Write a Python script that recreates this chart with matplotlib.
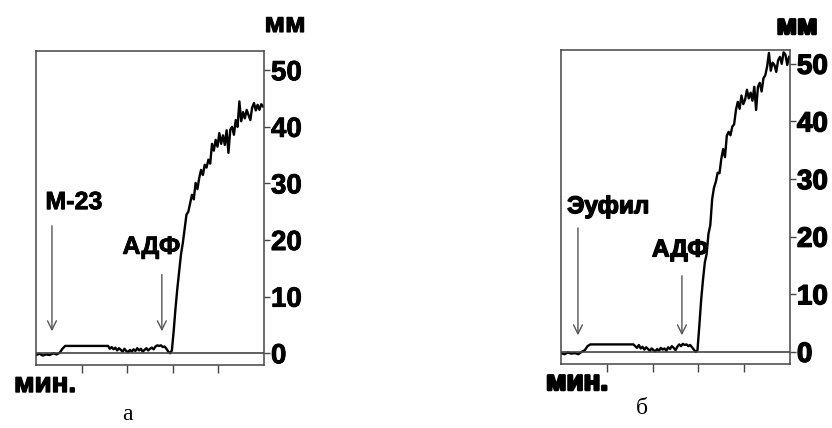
import numpy as np
import matplotlib
matplotlib.use('Agg')
import matplotlib.pyplot as plt
import matplotlib.patheffects as pe

plt.rcParams['font.family'] = ['Liberation Sans', 'DejaVu Sans']

# время, мин (общая сетка для обеих кривых)
t_base = [0.00, 0.08, 0.15, 0.22, 0.30, 0.38, 0.45, 0.52, 0.58, 0.64, 1.00, 1.30, 1.58]
t_noise = [1.62, 1.66, 1.70, 1.74, 1.78, 1.82, 1.86, 1.90, 1.94, 1.98, 2.02, 2.06,
           2.10, 2.14, 2.18, 2.22, 2.26, 2.30, 2.34, 2.38, 2.42, 2.46, 2.50, 2.54,
           2.58, 2.62, 2.66, 2.70, 2.74, 2.78, 2.82, 2.86, 2.90, 2.94]
t_rise = [2.98, 3.02, 3.06, 3.10, 3.14, 3.18, 3.22, 3.26, 3.30, 3.34, 3.38, 3.42,
          3.46, 3.50, 3.54, 3.58, 3.62, 3.66, 3.70, 3.74, 3.78, 3.82, 3.86, 3.90,
          3.94, 3.98, 4.02, 4.06, 4.10, 4.14, 4.18, 4.22, 4.26, 4.30, 4.34, 4.38,
          4.42, 4.46, 4.50, 4.54, 4.58, 4.62, 4.66, 4.70, 4.74, 4.78, 4.82, 4.86,
          4.90, 4.94, 4.98]

# а) М-23 + АДФ, мм
ya_base = [-0.3, -0.1, -0.4, -0.2, -0.3, 0.0, -0.2, 0.1, 0.8, 1.3, 1.3, 1.3, 1.3]
ya_noise = [0.8, 1.1, 0.7, 1.0, 0.5, 0.9, 0.6, 0.3, 0.8, 0.4, 0.2, 0.6,
            0.3, 0.7, 0.4, 0.9, 0.5, 0.8, 0.3, 0.6, 0.9, 0.5, 0.8, 1.0,
            0.7, 1.2, 1.4, 1.3, 1.4, 1.1, 1.2, 0.8, 0.3, 0.0]
ya_rise = [0.5, 4.0, 8.0, 11.5, 14.5, 17.5, 19.5, 22.0, 24.5, 25.0, 26.5, 28.0,
           27.2, 30.1, 29.0, 31.0, 32.4, 31.5, 33.3, 32.8, 34.2, 33.5, 37.0, 35.8,
           37.7, 36.5, 38.9, 37.0, 38.5, 36.8, 39.4, 35.4, 39.5, 40.0, 38.6, 41.2,
           40.0, 44.5, 41.0, 42.6, 41.5, 43.0, 42.1, 41.2, 43.4, 44.2, 42.9, 43.9,
           43.0, 44.0, 43.6]

# б) Эуфил + АДФ, мм
yb_base = [-0.2, -0.4, -0.1, -0.3, -0.2, -0.4, 0.0, 0.3, 1.0, 1.3, 1.3, 1.3, 1.3]
yb_noise = [1.0, 0.7, 1.2, 0.6, 0.9, 0.4, 0.8, 0.5, 0.2, 0.6, 0.3, 0.1,
            0.5, 0.2, 0.7, 0.4, 0.6, 0.2, 0.8, 0.5, 1.0, 0.7, 0.3, 0.9,
            1.3, 1.0, 1.4, 1.2, 1.3, 1.0, 1.2, 0.8, 0.4, 0.0]
yb_rise = [0.3, 4.5, 9.0, 12.5, 15.5, 17.0, 20.5, 22.0, 26.5, 28.5, 29.5, 31.1,
           31.0, 33.5, 35.2, 33.8, 37.5, 38.2, 37.6, 39.1, 39.5, 42.0, 43.4, 42.2,
           44.5, 43.0, 43.8, 45.5, 44.0, 45.0, 43.6, 46.0, 42.0, 46.0, 46.7, 45.2,
           47.5, 48.0, 49.5, 51.9, 48.8, 50.2, 49.8, 48.6, 50.6, 51.2, 50.0, 52.0,
           51.6, 49.8, 51.2]

yticks = [0, 10, 20, 30, 40, 50]
xticks = [1, 2, 3, 4]

W, H = 832, 428
fig = plt.figure(figsize=(W / 100, H / 100), dpi=100)


def bold_fx(w):
    return [pe.withStroke(linewidth=w, foreground='black')]


def panel(rect, ylim, y_vals, drug, drug_pos, drug_arrow, adp_pos, adp_arrow, fs, sw):
    ax = fig.add_axes(rect)
    t = t_base + t_noise + t_rise
    ax.plot(t, y_vals, color='black', lw=1.7)
    ax.axhline(0, color='#444444', lw=1.2)
    ax.set_xlim(0, 5)
    ax.set_ylim(*ylim)
    for s in ax.spines.values():
        s.set_color('#444444')
        s.set_linewidth(1.1)
    ax.yaxis.tick_right()
    ax.set_yticks(yticks)
    ax.set_yticklabels([str(v) for v in yticks], fontsize=20, fontweight='bold')
    for lab in ax.get_yticklabels():
        lab.set_path_effects(bold_fx(sw))
    ax.tick_params(axis='y', direction='out', length=4, width=1, pad=1,
                   colors='#444444', labelcolor='black')
    ax.set_xticks(xticks)
    ax.set_xticklabels([])
    ax.tick_params(axis='x', direction='out', length=6, width=1, colors='#444444')

    ax.text(drug_pos[0], drug_pos[1], drug, ha='center', va='center',
            fontsize=fs, fontweight='bold', path_effects=bold_fx(sw))
    ax.text(adp_pos[0], adp_pos[1], 'АДФ', ha='center', va='center',
            fontsize=fs, fontweight='bold', path_effects=bold_fx(sw))
    for (x, y0, y1) in (drug_arrow, adp_arrow):
        ax.annotate('', xy=(x, y1), xytext=(x, y0),
                    arrowprops=dict(arrowstyle='->', color='#555555', lw=1.0,
                                    mutation_scale=16))
    return ax


panel([36 / W, 1 - 365 / H, 228 / W, 314 / H], (-2.07, 53.4),
      ya_base + ya_noise + ya_rise,
      'М-23', (0.83, 26.7), (0.35, 23.0, 3.4),
      (2.53, 18.8), (2.76, 14.4, 3.4), 18, 0.6)

panel([561 / W, 1 - 364 / H, 229 / W, 314 / H], (-2.1, 52.4),
      yb_base + yb_noise + yb_rise,
      'Эуфил', (1.03, 25.2), (0.37, 22.0, 2.4),
      (2.6, 17.7), (2.64, 13.7, 2.4), 17.5, 1.0)

# подписи осей и панелей
fig.text(285 / W, 1 - 25 / H, 'мм', ha='center', va='center', fontsize=20,
         fontweight='bold', path_effects=bold_fx(0.8))
fig.text(797 / W, 1 - 27 / H, 'мм', ha='center', va='center', fontsize=20,
         fontweight='bold', path_effects=bold_fx(1.8))
fig.text(45 / W, 1 - 385 / H, 'мин.', ha='center', va='center', fontsize=20,
         fontweight='bold', path_effects=bold_fx(1.0))
fig.text(577 / W, 1 - 383 / H, 'мин.', ha='center', va='center', fontsize=20,
         fontweight='bold', path_effects=bold_fx(1.8))
fig.text(127 / W, 1 - 415 / H, 'а', ha='center', va='center', fontsize=17,
         family=['Liberation Serif'])
fig.text(642 / W, 1 - 408 / H, 'б', ha='center', va='center', fontsize=17,
         family=['Liberation Serif'])

fig.savefig('out.png', dpi=100)
